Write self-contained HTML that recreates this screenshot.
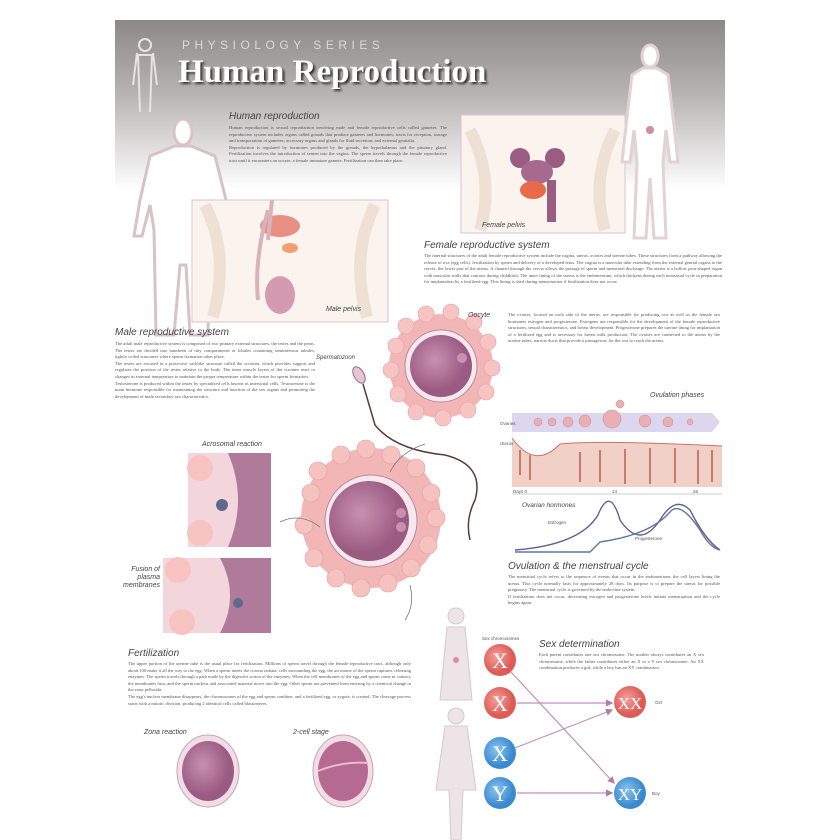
<!DOCTYPE html>
<html><head><meta charset="utf-8"><style>
*{margin:0;padding:0;box-sizing:border-box}
body{width:840px;height:840px;background:#fff;position:relative;overflow:hidden;font-family:"Liberation Sans",sans-serif}
.p{position:absolute;font-family:"Liberation Serif",serif;font-size:4.6px;line-height:6.6px;color:#555;text-align:justify}
.h{position:absolute;font-style:italic;color:#444;font-size:10px}
svg{position:absolute;left:0;top:0}
</style></head><body>
<svg width="840" height="840" viewBox="0 0 840 840">
<defs>
<linearGradient id="hd" x1="0" y1="0" x2="0" y2="1">
<stop offset="0" stop-color="#8d8888"/><stop offset="0.45" stop-color="#b9b5b5"/><stop offset="1" stop-color="#fff"/></linearGradient>
<radialGradient id="egg" cx="0.4" cy="0.4"><stop offset="0" stop-color="#c890b0"/><stop offset="1" stop-color="#9a5b82"/></radialGradient>
<radialGradient id="red" cx="0.4" cy="0.4"><stop offset="0" stop-color="#f4a09a"/><stop offset="1" stop-color="#dd5a55"/></radialGradient>
<radialGradient id="blue" cx="0.4" cy="0.4"><stop offset="0" stop-color="#8cc4ee"/><stop offset="1" stop-color="#3a8ad0"/></radialGradient>
<marker id="ar" markerWidth="6" markerHeight="6" refX="5" refY="3" orient="auto"><path d="M0,0L6,3L0,6z" fill="#b07aaa"/></marker>
</defs>
<rect x="115" y="20" width="610" height="170" fill="url(#hd)"/>
<!-- small male top -->
<g fill="none" stroke="#e9e2e2" stroke-width="2"><circle cx="145" cy="45" r="6"/><path d="M137,53 L133,85 M153,53 L157,85 M138,55 L140,112 M152,55 L150,112 M137,55h16"/></g>
<!-- big male outline -->
<g fill="#fff" stroke="#d8c2c8" stroke-width="3">
<ellipse cx="183" cy="132" rx="9" ry="13"/>
<path d="M175,146 L150,156 L140,200 L134,236 L142,236 L150,205 L154,230 L156,335 L174,335 L180,265 L186,265 L190,335 L208,335 L210,230 L214,205 L222,236 L230,236 L226,200 L215,156 L191,146z"/>
</g>
<!-- male pelvis box -->
<rect x="192" y="200" width="196" height="122" fill="#fbf3ee" stroke="#d9c6cc"/>
<path d="M205,205 q25,50 8,112 M375,205 q-25,50 -8,112" stroke="#efe0d4" stroke-width="12" fill="none"/>
<ellipse cx="280" cy="226" rx="20" ry="11" fill="#e88f86"/>
<ellipse cx="290" cy="248" rx="8" ry="5" fill="#f0a070"/>
<ellipse cx="280" cy="295" rx="15" ry="19" fill="#d49ab0"/>
<path d="M268,210 q-14,50 -10,90 M272,200 q-2,20 -4,40" stroke="#d9b2bc" stroke-width="4" fill="none"/>
<!-- female pelvis box -->
<rect x="461" y="115" width="164" height="118" fill="#fbf3ee" stroke="#d9c6cc"/>
<path d="M470,130 q25,50 10,100 M615,130 q-25,50 -10,100" stroke="#efe0d4" stroke-width="12" fill="none"/>
<circle cx="520" cy="158" r="10" fill="#9a5d82"/><circle cx="555" cy="158" r="10" fill="#9a5d82"/>
<ellipse cx="537" cy="172" rx="16" ry="12" fill="#a8698f"/>
<ellipse cx="533" cy="190" rx="13" ry="9" fill="#e86a48"/>
<rect x="547" y="180" width="9" height="42" fill="#9a5d82"/>
<!-- female figure -->
<g fill="#fff" stroke="#e2d2d6" stroke-width="3">
<ellipse cx="650" cy="56" rx="8" ry="11"/>
<path d="M643,68 L632,75 L625,135 L622,162 L630,162 L634,130 L637,162 L634,238 L646,238 L650,178 L654,238 L666,238 L663,162 L666,130 L670,162 L678,162 L675,135 L668,75 L657,68z"/>
</g>
<circle cx="650" cy="130" r="4" fill="#d68aa0"/>
<!-- oocyte -->
<circle cx="441" cy="366" r="52" fill="#f2b6b6"/>
<g fill="#f6c4c2" stroke="#e8a0a0" stroke-width="0.6" transform="translate(-4,-4)">
<circle cx="400" cy="350" r="8"/><circle cx="410" cy="330" r="8"/><circle cx="430" cy="318" r="8"/><circle cx="455" cy="316" r="8"/><circle cx="478" cy="326" r="8"/><circle cx="492" cy="346" r="8"/><circle cx="496" cy="372" r="8"/><circle cx="490" cy="396" r="8"/><circle cx="472" cy="414" r="8"/><circle cx="447" cy="422" r="8"/><circle cx="420" cy="416" r="8"/><circle cx="402" cy="398" r="8"/><circle cx="395" cy="374" r="8"/></g>
<circle cx="441" cy="366" r="36" fill="#f7e8ee" stroke="#b889a4"/>
<circle cx="441" cy="366" r="31" fill="url(#egg)"/>
<circle cx="462" cy="358" r="5" fill="#c990b0"/>
<!-- spermatozoon -->
<ellipse cx="359" cy="375" rx="5" ry="9" fill="#e3c6d0" stroke="#9b6b83" transform="rotate(-30 359 375)"/>
<path d="M363,384 L375,425 Q395,450 445,455 Q485,465 475,500 Q465,520 470,540" stroke="#5a3a3a" stroke-width="1.5" fill="none"/>
<!-- central egg -->
<circle cx="371" cy="518" r="70" fill="#f2b6b6"/>
<g fill="#f5c2c0" stroke="#e3a0a0" stroke-width="0.6" transform="translate(-4,13)">
<circle cx="315" cy="480" r="9"/><circle cx="322" cy="458" r="9"/><circle cx="345" cy="442" r="9"/><circle cx="370" cy="436" r="9"/><circle cx="395" cy="442" r="9"/><circle cx="420" cy="455" r="9"/><circle cx="435" cy="480" r="9"/><circle cx="440" cy="505" r="9"/><circle cx="432" cy="532" r="9"/><circle cx="415" cy="555" r="9"/><circle cx="392" cy="570" r="9"/><circle cx="365" cy="575" r="9"/><circle cx="340" cy="565" r="9"/><circle cx="318" cy="545" r="9"/><circle cx="308" cy="512" r="9"/></g>
<circle cx="371" cy="521" r="46" fill="#f7e8ee" stroke="#b889a4"/>
<circle cx="369" cy="521" r="40" fill="url(#egg)"/>
<circle cx="401" cy="513" r="5" fill="#c990b0"/><circle cx="401" cy="527" r="5" fill="#c990b0"/>
<g stroke="#777" fill="none" stroke-width="0.8"><path d="M280,522 q20,-10 40,5"/><path d="M390,472 q10,-20 35,-28"/><path d="M410,585 q5,20 -5,35"/></g>
<!-- acrosomal boxes -->
<rect x="188" y="453" width="83" height="94" fill="#f3d6dc"/>
<path d="M228,453 q20,47 0,94 h43 v-94z" fill="#b07a9a"/>
<circle cx="200" cy="468" r="13" fill="#f6c3c0"/><circle cx="200" cy="533" r="13" fill="#f6c3c0"/>
<circle cx="222" cy="505" r="6" fill="#5d6a8a"/>
<rect x="163" y="558" width="108" height="75" fill="#f3d6dc"/>
<path d="M220,558 q20,38 0,75 h51 v-75z" fill="#b07a9a"/>
<circle cx="178" cy="570" r="13" fill="#f6c3c0"/><circle cx="182" cy="622" r="13" fill="#f6c3c0"/>
<circle cx="238" cy="603" r="5" fill="#5d6a8a"/>
<!-- ovulation phases -->
<path d="M512,413 H712 L720,422 L712,432 H512z" fill="#dcd6ef"/>
<g fill="#e9b0b4" stroke="#c88a90" stroke-width="0.5"><circle cx="538" cy="422" r="4"/><circle cx="552" cy="422" r="4"/><circle cx="568" cy="422" r="5"/><circle cx="585" cy="421" r="6"/><circle cx="612" cy="419" r="9"/><circle cx="620" cy="404" r="4"/><circle cx="645" cy="421" r="6"/><circle cx="668" cy="422" r="5"/><circle cx="690" cy="422" r="3"/></g>
<path d="M512,438 L512,487 H722 V446 Q600,440 560,444 Q535,470 512,438z" fill="#f1d0c8"/>
<path d="M512,438 Q535,470 560,444 Q600,440 722,446" stroke="#c9746a" fill="none"/>
<g stroke="#b44a40" stroke-width="1.3"><path d="M520,450v25M530,455v25M580,452v30M600,450v32M625,449v35M650,448v36M675,448v35M698,450v34M712,450v32"/></g>
<line x1="512" y1="494" x2="722" y2="494" stroke="#999" stroke-width="0.5"/>
<path d="M515,550 Q580,545 598,515 Q610,485 620,520 Q640,550 660,520 Q675,495 690,510 Q705,540 720,550" stroke="#6a5a9a" fill="none" stroke-width="1.4"/>
<path d="M515,552 L590,552 L600,542 Q650,535 670,512 Q680,500 700,530 Q710,548 720,550" stroke="#5a7aa0" fill="none" stroke-width="1.4"/>
<!-- zona & 2-cell -->
<ellipse cx="208" cy="771" rx="31" ry="36" fill="#f2dde5" stroke="#c9a3b5"/>
<ellipse cx="208" cy="771" rx="26" ry="30" fill="url(#egg)"/>
<ellipse cx="343" cy="771" rx="30" ry="36" fill="#f2dde5" stroke="#c9a3b5"/>
<ellipse cx="343" cy="771" rx="25" ry="30" fill="#b56a92"/>
<path d="M318,771 q25,-10 50,-8" stroke="#e5bfd0" stroke-width="2" fill="none"/>
<!-- figures sex det -->
<g fill="#ece4e6" stroke="#d6c8cc"><circle cx="456" cy="616" r="8"/><path d="M447,627 L440,700 L472,700 L465,627z"/><circle cx="456" cy="716" r="8"/><path d="M445,726 L436,790 L449,790 L451,840 L461,840 L463,790 L476,790 L467,726z"/></g>
<circle cx="456" cy="660" r="3" fill="#e08aa8"/>
<!-- arrows -->
<g stroke="#c090c0" stroke-width="1.2" fill="none" marker-end="url(#ar)">
<line x1="511" y1="672" x2="614" y2="783"/><line x1="517" y1="703" x2="612" y2="703"/>
<line x1="515" y1="748" x2="612" y2="710"/><line x1="517" y1="793" x2="612" y2="793"/></g>
<g font-family="Liberation Serif,serif" font-size="22" fill="#fff" text-anchor="middle">
<circle cx="500" cy="660" r="16" fill="url(#red)"/><text x="500" y="668">X</text>
<circle cx="500" cy="703" r="16" fill="url(#red)"/><text x="500" y="711">X</text>
<circle cx="500" cy="753" r="16" fill="url(#blue)"/><text x="500" y="761">X</text>
<circle cx="500" cy="793" r="16" fill="url(#blue)"/><text x="500" y="801">Y</text>
<circle cx="630" cy="702" r="16" fill="url(#red)"/><text x="630" y="709" font-size="17">XX</text>
<circle cx="630" cy="793" r="16" fill="url(#blue)"/><text x="630" y="800" font-size="17">XY</text></g>
<g font-size="4.5" fill="#555" font-family="Liberation Sans,sans-serif"><text x="655" y="704">Girl</text><text x="652" y="795">Boy</text><text x="482" y="640">Sex chromosomes</text>
<text x="513" y="493">Days 0</text><text x="612" y="493">14</text><text x="693" y="493">28</text>
<text x="500" y="425">Ovaries</text><text x="500" y="445">Uterus</text><text x="548" y="524">Estrogen</text><text x="635" y="540">Progesterone</text></g>
</svg>
<div style="position:absolute;left:182px;top:38px;font-size:12px;letter-spacing:4.5px;color:#ddd8d8">PHYSIOLOGY SERIES</div>
<div style="position:absolute;left:178px;top:54px;font-family:'Liberation Serif',serif;font-weight:bold;font-size:33px;color:#fff;text-shadow:2px 2px 2px #333">Human Reproduction</div>
<div class="h" style="left:229px;top:111px">Human reproduction</div>
<div class="p" style="left:229px;top:125px;width:218px">Human reproduction is sexual reproduction involving male and female reproductive cells called gametes. The reproductive system includes organs called gonads that produce gametes and hormones; tracts for reception, storage and transportation of gametes; accessory organs and glands for fluid secretion; and external genitalia.<br>Reproduction is regulated by hormones produced by the gonads, the hypothalamus and the pituitary gland. Fertilization involves the introduction of semen into the vagina. The sperm travels through the female reproductive tract until it encounters an oocyte, a female immature gamete. Fertilization can then take place.</div>
<div class="h" style="left:424px;top:240px">Female reproductive system</div>
<div class="p" style="left:424px;top:253px;width:298px">The internal structures of the adult female reproductive system include the vagina, uterus, ovaries and uterine tubes. These structures form a pathway allowing the release of ova (egg cells), fertilization by sperm and delivery of a developed fetus. The vagina is a muscular tube extending from the external genital organs to the cervix, the lower part of the uterus. A channel through the cervix allows the passage of sperm and menstrual discharge. The uterus is a hollow pear-shaped organ with muscular walls that contract during childbirth. The inner lining of the uterus is the endometrium, which thickens during each menstrual cycle in preparation for implantation by a fertilized egg. This lining is shed during menstruation if fertilization does not occur.</div>
<div class="h" style="left:115px;top:327px">Male reproductive system</div>
<div class="p" style="left:115px;top:341px;width:200px">The adult male reproductive system is comprised of two primary external structures, the testes and the penis. The testes are divided into hundreds of tiny compartments or lobules containing seminiferous tubules, tightly coiled structures where sperm formation takes place.<br>The testes are encased in a protective sacklike structure called the scrotum, which provides support and regulates the position of the testes relative to the body. The inner muscle layers of the scrotum react to changes in external temperature to maintain the proper temperature within the testes for sperm formation.<br>Testosterone is produced within the testes by specialized cells known as interstitial cells. Testosterone is the main hormone responsible for maintaining the structure and function of the sex organs and promoting the development of male secondary sex characteristics.</div>
<div class="h" style="left:468px;top:312px;font-size:7px">Oocyte</div>
<div class="h" style="left:316px;top:355px;font-size:6px">Spermatozoon</div>
<div class="p" style="left:508px;top:312px;width:212px">The ovaries, located on each side of the uterus, are responsible for producing ova as well as the female sex hormones estrogen and progesterone. Estrogens are responsible for the development of the female reproductive structures, sexual characteristics, and breast development. Progesterone prepares the uterine lining for implantation of a fertilized egg and is necessary for breast milk production. The ovaries are connected to the uterus by the uterine tubes, narrow ducts that provide a passageway for the ova to reach the uterus.</div>
<div class="h" style="left:650px;top:392px;font-size:7px">Ovulation phases</div>
<div class="h" style="left:522px;top:502px;font-size:6.5px">Ovarian hormones</div>
<div class="h" style="left:202px;top:441px;font-size:7px">Acrosomal reaction</div>
<div class="h" style="left:118px;top:566px;font-size:7px;text-align:right;width:42px;line-height:8px">Fusion of plasma membranes</div>
<div class="h" style="left:508px;top:561px">Ovulation &amp; the menstrual cycle</div>
<div class="p" style="left:508px;top:574px;width:212px">The menstrual cycle refers to the sequence of events that occur in the endometrium, the cell layers lining the uterus. This cycle normally lasts for approximately 28 days. Its purpose is to prepare the uterus for possible pregnancy. The menstrual cycle is governed by the endocrine system.<br>If fertilization does not occur, decreasing estrogen and progesterone levels initiate menstruation and the cycle begins again.</div>
<div class="h" style="left:128px;top:648px">Fertilization</div>
<div class="p" style="left:128px;top:661px;width:283px">The upper portion of the uterine tube is the usual place for fertilization. Millions of sperm travel through the female reproductive tract, although only about 100 make it all the way to the egg. When a sperm meets the corona radiata, cells surrounding the egg, the acrosome of the sperm ruptures, releasing enzymes. The sperm travels through a path made by the digestive action of the enzymes. When the cell membranes of the egg and sperm come in contact, the membranes fuse, and the sperm nucleus and associated material move into the egg. Other sperm are prevented from entering by a chemical change in the zona pellucida.<br>The egg's nuclear membrane disappears, the chromosomes of the egg and sperm combine, and a fertilized egg, or zygote, is created. The cleavage process starts with a mitotic division, producing 2 identical cells called blastomeres.</div>
<div class="h" style="left:144px;top:729px;font-size:7px">Zona reaction</div>
<div class="h" style="left:293px;top:729px;font-size:7px">2-cell stage</div>
<div class="h" style="left:539px;top:639px">Sex determination</div>
<div class="p" style="left:539px;top:652px;width:165px">Each parent contributes one sex chromosome. The mother always contributes an X sex chromosome, while the father contributes either an X or a Y sex chromosome. An XX combination produces a girl, while a boy has an XY combination.</div>
<div class="h" style="left:482px;top:222px;font-size:7px">Female pelvis</div>
<div class="h" style="left:326px;top:306px;font-size:7px">Male pelvis</div>
</body></html>
